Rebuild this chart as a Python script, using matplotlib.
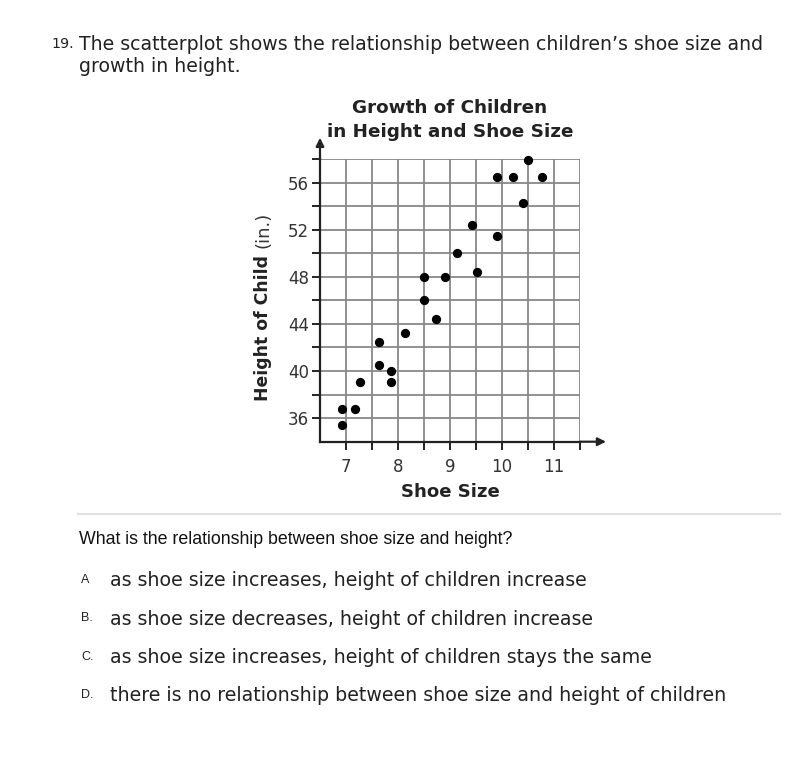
import matplotlib
matplotlib.use("Agg")
import matplotlib.pyplot as plt
from matplotlib.lines import Line2D

shoe_size = [6.92, 6.92, 7.17, 7.26, 7.64, 7.64, 7.87, 7.87, 8.13, 8.5, 8.5,
             8.74, 8.91, 9.13, 9.42, 9.51, 9.9, 9.9, 10.22, 10.41, 10.5, 10.77]
height = [36.8, 35.4, 36.8, 39.1, 42.45, 40.5, 40.0, 39.05, 43.2, 48.0, 46.0,
          44.4, 48.0, 50.0, 52.4, 48.4, 56.45, 51.5, 56.45, 54.3, 57.95, 56.45]
x_labels = [7, 8, 9, 10, 11]
y_labels = [36, 40, 44, 48, 52, 56]
choices = ["A", "B.", "C.", "D."]
choice_text = [
    "as shoe size increases, height of children increase",
    "as shoe size decreases, height of children increase",
    "as shoe size increases, height of children stays the same",
    "there is no relationship between shoe size and height of children",
]

W, H = 800, 765
fig = plt.figure(figsize=(8, 7.65), dpi=100)


def px(x, y):
    return x / W, 1 - y / H


ax = fig.add_axes([320 / W, 1 - 441.7 / H, 260 / W, (441.7 - 159) / H])
ax.set_xlim(6.5, 11.5)
ax.set_ylim(34, 58)

grid_x = [6.5 + 0.5 * i for i in range(11)]
grid_y = [34 + 2 * i for i in range(13)]
for gx in grid_x[1:]:
    ax.axvline(gx, color="#888888", lw=1.3, zorder=1)
for gy in grid_y[1:]:
    ax.axhline(gy, color="#888888", lw=1.3, zorder=1)

for s in ["top", "right"]:
    ax.spines[s].set_visible(False)
for s in ["left", "bottom"]:
    ax.spines[s].set_color("#222222")
    ax.spines[s].set_linewidth(1.6)

ax.set_xticks(grid_x[1:])
ax.set_xticklabels([str(int(v)) if v in x_labels else "" for v in grid_x[1:]])
ax.set_yticks(grid_y[1:])
ax.set_yticklabels([str(v) if v in y_labels else "" for v in grid_y[1:]])
ax.tick_params(direction="out", length=6, width=1.4, color="#222222",
               labelsize=12, labelcolor="#333333")
ax.tick_params(axis="x", pad=6)
ax.tick_params(axis="y", pad=2)

ax.scatter(shoe_size, height, s=32, color="black", zorder=3, clip_on=False)

# axis arrows
ax.annotate("", xy=(1.1, 0), xytext=(1.0, 0), xycoords="axes fraction",
            arrowprops=dict(arrowstyle="-|>", color="#222222", lw=1.6,
                            mutation_scale=12, shrinkA=0, shrinkB=0))
ax.annotate("", xy=(0, 1.075), xytext=(0, 1.0), xycoords="axes fraction",
            arrowprops=dict(arrowstyle="-|>", color="#222222", lw=1.6,
                            mutation_scale=12, shrinkA=0, shrinkB=0))

# chart labels
fig.text(*px(450, 108), "Growth of Children", ha="center", va="center",
         fontsize=13.2, fontweight="bold", color="#222222")
fig.text(*px(450, 132), "in Height and Shoe Size", ha="center", va="center",
         fontsize=13.2, fontweight="bold", color="#222222")
fig.text(*px(450, 492), "Shoe Size", ha="center", va="center",
         fontsize=13.1, fontweight="bold", color="#222222")
fig.text(*px(263, 328), "Height of Child", ha="center", va="center",
         rotation=90, fontsize=12.4, fontweight="bold", color="#222222")
fig.text(*px(263, 230), "(in.)", ha="center", va="center",
         rotation=90, fontsize=13, color="#333333")

# question text
fig.text(*px(51, 44), "19.", ha="left", va="center", fontsize=10.3, color="#222222")
fig.text(*px(79, 44), "The scatterplot shows the relationship between children\u2019s shoe size and",
         ha="left", va="center", fontsize=13.6, color="#222222")
fig.text(*px(79, 67), "growth in height.", ha="left", va="center",
         fontsize=13.6, color="#222222")

fig.add_artist(Line2D([78 / W, 780 / W], [1 - 514 / H, 1 - 514 / H],
                      color="#e2e2e2", lw=1.5))

fig.text(*px(79, 540), "What is the relationship between shoe size and height?",
         ha="left", va="center", fontsize=12.8, family="Liberation Sans",
         color="#111111")

for i, (c, t) in enumerate(zip(choices, choice_text)):
    y = 581 + i * 38.3
    fig.text(*px(81, y - 1), c, ha="left", va="center", fontsize=9,
             family="Liberation Sans", color="#222222")
    fig.text(*px(110, y), t, ha="left", va="center", fontsize=13.7,
             color="#222222")

fig.savefig("out.png", dpi=100, facecolor="white")
